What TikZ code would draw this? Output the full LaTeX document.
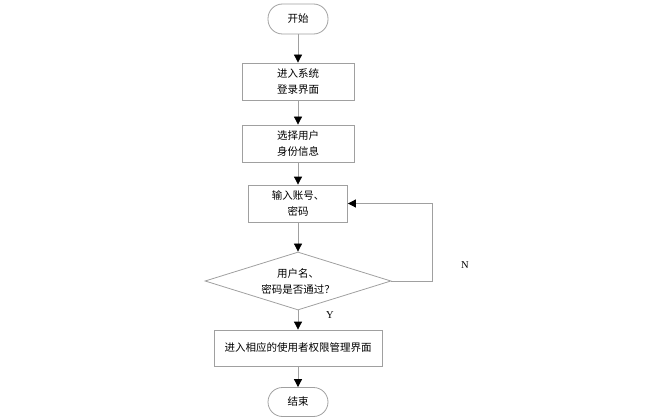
\documentclass[tikz,border=0pt]{standalone}
\usepackage{fontspec}
\setmainfont{Liberation Serif}
\newfontfamily\cjk{Noto Sans CJK SC}
\usetikzlibrary{arrows.meta,shapes.geometric}
\definecolor{linegray}{RGB}{160,160,160}
\tikzset{
  box/.style={draw=linegray, line width=0.8pt, minimum width=112pt, minimum height=37pt, align=center, font=\cjk\fontsize{10.5}{16}\selectfont, inner sep=2pt},
  term/.style={draw=linegray, line width=0.8pt, minimum width=60pt, minimum height=30pt, rounded corners=14.5pt, font=\cjk\fontsize{10.5}{16}\selectfont},
  dec/.style={draw=linegray, line width=0.8pt, diamond, aspect=3.2, minimum width=186pt, minimum height=58pt, inner sep=0pt, align=center, font=\cjk\fontsize{10.5}{16}\selectfont},
  flow/.style={draw=linegray, line width=0.8pt, -{Triangle[length=8pt,width=8pt,color=black]}},
  lbl/.style={font=\fontsize{10.5}{12}\selectfont}
}
\begin{document}
\begin{tikzpicture}[x=1pt,y=-1pt]
\useasboundingbox (0,0) rectangle (665,420);
\node[term] (start) at (298,19) {开始};
\node[box] (b1) at (298,81.5) {进入系统\\登录界面};
\node[box] (b2) at (298,143.5) {选择用户\\身份信息};
\node[box, minimum width=99pt] (b3) at (298,203.5) {输入账号、\\密码};
\node[dec] (d) at (298,281) {用户名、\\密码是否通过？};
\node[box, minimum width=168pt, minimum height=36pt] (b4) at (298,348) {进入相应的使用者权限管理界面};
\node[term, minimum height=29pt] (end) at (298,402) {结束};
\coordinate (c1) at (432,281);
\coordinate (c2) at (432,203.5);
\draw[flow] (start) -- (b1);
\draw[flow] (b1) -- (b2);
\draw[flow] (b2) -- (b3);
\draw[flow] (b3) -- (d);
\draw[flow] (d) -- (b4);
\draw[flow] (b4) -- (end);
\draw[flow] (d.east) -- (c1) -- (c2) -- (b3.east);
\node[lbl] (n) at (465,265) {N};
\node[lbl] (y) at (330,315) {Y};
\end{tikzpicture}
\end{document}
